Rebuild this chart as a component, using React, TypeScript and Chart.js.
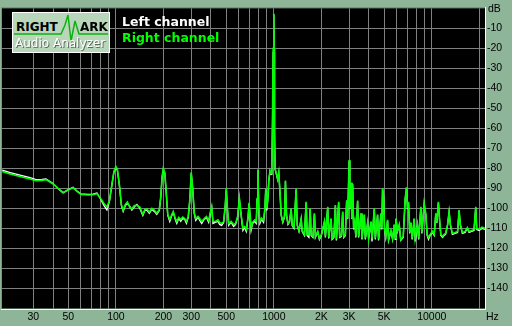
import React, { useEffect, useRef } from "react";
import { Chart, registerables } from "chart.js";

Chart.register(...registerables);

// Shared frequency grid of the FFT readout (Hz)
const freqs = [
  19.05, 21.4, 24.7, 28.6, 31.2, 34.1, 36.1, 40, 43, 46.3, 49, 53.5, 56.7, 60.1, 66.5, 71.6, 75.9, 79.2, 84, 87.7,
  91, 94.3, 97.1, 100, 102.2, 105.2, 108.3, 111.2, 114.8, 118.2, 122.6, 126.2, 130.9, 135.8, 141.8, 148.1, 152.5, 157, 162.8, 168.8,
  175.1, 181.6, 188.3, 192.4, 196.1, 199.6, 204, 208.4, 213, 219.4, 225.9, 230.9, 237.7, 242.9, 250, 257.4, 265, 272.9, 279.7, 287.1,
  293.5, 300, 306.5, 313.3, 320.2, 331.1, 339.4, 349.4, 362.3, 374.1, 386.8, 398.2, 404.1, 411.8, 425.2, 442.9, 453.9, 467.4, 481.2, 491.9,
  500, 508.5, 517.5, 536.6, 556.5, 572.8, 589.8, 605, 620.7, 637.2, 653.1, 669.4, 687.1, 697.1, 707.4, 717.8, 733.6, 755.3, 774.2, 783.3,
  792.4, 804, 815.8, 836.2, 861, 877.5, 889, 903.4, 916.6, 929.9, 946.3, 960.1, 971.4, 981.3, 989.9, 1000, 1005, 1010, 1019, 1034,
  1058, 1075, 1097, 1113, 1140, 1168, 1185, 1203, 1229, 1257, 1288, 1307, 1342, 1385, 1406, 1443, 1490, 1512, 1563, 1602,
  1626, 1669, 1698, 1723, 1769, 1808, 1834, 1897, 1944, 2001, 2091, 2121, 2194, 2226, 2305, 2339, 2401, 2454, 2490, 2574,
  2612, 2678, 2729, 2769, 2838, 2892, 2935, 3000, 3030, 3083, 3119, 3156, 3202, 3258, 3306, 3393, 3443, 3565, 3617, 3741,
  3796, 3925, 3983, 4124, 4185, 4327, 4391, 4539, 4606, 4770, 4825, 4882, 4954, 5026, 5115, 5251, 5328, 5516, 5646, 5788,
  5873, 5933, 6073, 6226, 6362, 6597, 6792, 6922, 7023, 7126, 7251, 7379, 7519, 7741, 7854, 8123, 8266, 8535, 8660, 8954,
  9178, 9353, 9533, 9770, 10100, 10360, 10610, 10770, 11020, 11220, 11420, 11720, 11980, 12240, 12600, 12880, 13130, 13510, 14050, 14570,
  14900, 15180, 15630, 16260, 16810, 17240, 17870, 18530, 18990, 19270, 19930, 20820, 21740,
];

// Right channel (green), dB
const rightDb = [
  -81.5, -82.8, -84, -85.3, -86.2, -86, -85.6, -87.8, -90, -92, -91.2, -89.6, -91.5, -93, -93.3, -93.2, -92.6, -94.5, -97.5, -99.3,
  -96, -88, -81.5, -79, -80.5, -88, -98, -101, -98, -96.8, -99.5, -100.2, -98.5, -98.4, -99.3, -103, -100.5, -100.2, -101.8, -100,
  -100.8, -102.4, -100.5, -94, -84, -80, -82, -92, -103, -105.5, -103, -101.5, -105, -106.5, -104.5, -105.5, -104.3, -105, -106.5, -104,
  -96, -82, -90, -102, -105, -104, -105, -106.5, -105, -104, -106, -101, -99, -106.5, -106.5, -105.7, -107, -107.5, -106.5, -99,
  -90, -100, -107.5, -106.5, -108, -107.5, -104, -94.8, -103, -109.8, -109, -110.5, -104, -97.2, -103, -109.8, -107, -105.7, -106.5, -95,
  -80.5, -100, -106.5, -104.9, -106, -100, -90, -100, -95, -85.3, -81, -82.5, -79, -55, -20, -2.7, -20, -60, -80, -82,
  -85.3, -82, -93.5, -103, -106.5, -104, -86, -103, -107.5, -106.5, -100, -108, -109.5, -90.2, -108, -111, -105, -111, -113, -96.7,
  -113, -113, -100, -113, -114, -102.4, -114, -111.4, -115, -113, -106.5, -114, -99.2, -114.5, -105, -115, -114, -98.3, -115.5, -96.7,
  -114, -113.5, -101.6, -114, -113, -95.9, -105, -75.8, -100, -87, -105, -87.8, -110, -106.5, -114, -96, -114, -102.4, -115, -103,
  -115, -107.3, -115, -106.5, -115, -100, -115, -103, -115.5, -102.4, -110, -90, -93.5, -110, -114, -105.7, -115.5, -111, -115, -108,
  -115, -105, -111, -108, -115.5, -114, -95, -89.4, -100, -96.7, -112, -107, -115, -105, -115, -108, -115, -99.2, -112, -97.5,
  -103, -113, -114.5, -113, -111.4, -113, -102.4, -107, -96.7, -106, -113, -114, -113, -112.5, -108, -101.6, -108, -112.5, -112, -111.5,
  -100.8, -108, -112, -111.5, -109.5, -111.5, -111, -110.5, -99.2, -110, -110.5, -109.4, -110,
];

// Left channel (white), dB
const leftDb = [
  -80.8, -82.1, -83.3, -84.6, -85.6, -85.5, -85.2, -87.5, -90, -92.2, -91, -89.4, -91.3, -92.8, -93, -92.9, -92.3, -94.8, -98.5, -100.8,
  -96.5, -88.5, -82, -79.5, -81, -88.5, -98.5, -101.5, -98.5, -97.5, -99, -100.8, -99.2, -98, -100, -103.5, -101, -100.8, -102.5, -100.5,
  -101.5, -103, -101, -94.5, -84.5, -80.5, -82.5, -92.5, -103.5, -106.5, -103.5, -102, -105.5, -107.5, -105, -106.5, -105, -105.5, -107.5, -104.5,
  -96.5, -82.5, -90.5, -102.5, -106, -104.5, -106, -107.5, -105.5, -104.5, -107, -101.5, -99.5, -107.5, -107, -106.5, -108, -108.5, -107, -99.5,
  -90.5, -100.5, -108.5, -107, -109, -108, -104.5, -95.3, -103.5, -111, -109.5, -111.5, -104.5, -97.7, -103.5, -111, -107.5, -106.5, -107.5, -95.5,
  -81, -101, -107.5, -105.5, -107, -101, -90.5, -101, -95.5, -86, -81.5, -83, -79.5, -58, -22, -3, -22, -62, -80.5, -82.5,
  -85.6, -82.3, -93.8, -103.5, -107, -104.3, -86.3, -103.5, -108, -106.8, -100.3, -108.5, -110, -90.5, -108.5, -111.5, -105.3, -111.5, -113.5, -97,
  -113.5, -114.5, -100.3, -113.5, -114.5, -102.7, -114.5, -111.8, -115.5, -113.5, -106.8, -114.5, -99.5, -115, -105.3, -115.5, -114.5, -98.6, -116, -97,
  -114.5, -114, -101.9, -114.5, -113.5, -96.2, -105.3, -76.2, -100.3, -87.3, -105.3, -88.1, -110.5, -106.8, -114.5, -96.3, -114.5, -102.7, -115.5, -103.3,
  -115.5, -107.6, -115.5, -106.8, -116.5, -100.3, -115.5, -103.3, -116, -102.7, -110.5, -90.3, -93.8, -110.5, -114.5, -106, -116, -111.5, -115.5, -108.3,
  -115.5, -105.3, -111.5, -108.3, -116, -114.5, -95.3, -89.7, -100.3, -97, -112.5, -107.3, -115.5, -105.3, -116.5, -108.3, -115.5, -99.5, -112.5, -97.8,
  -103.3, -113.5, -115.5, -113.5, -112, -113.5, -102.7, -107.3, -97, -106.3, -113.5, -114.5, -113.5, -113, -108.3, -101.9, -108.3, -113, -112.5, -112,
  -101.1, -108.3, -112.5, -112, -110, -112, -111.5, -111, -99.5, -110.5, -111, -110, -110.5,
];

// Axes
const freqMin = 19;
const freqMax = 21740;
const dbMin = -150;
const dbMax = 0;
const freqGrid = [30, 40, 50, 60, 70, 80, 90, 100, 200, 300, 400, 500, 600, 700, 800, 900, 1000, 2000, 3000, 4000, 5000, 6000, 7000, 8000, 9000, 10000, 20000];
const freqLabelValues = [30, 50, 100, 200, 300, 500, 1000, 2000, 3000, 5000, 10000];
const freqLabelTexts = ["30", "50", "100", "200", "300", "500", "1000", "2K", "3K", "5K", "10000"];
const dbTicks = [-10, -20, -30, -40, -50, -60, -70, -80, -90, -100, -110, -120, -130, -140];

const BG = "rgb(143,181,153)";

export default function App() {
  const canvasRef = useRef<HTMLCanvasElement | null>(null);

  useEffect(() => {
    document.body.style.margin = "0";
    const canvas = canvasRef.current;
    if (!canvas) return;

    const framePlugin = {
      id: "frame",
      beforeDraw(chart: any) {
        const { ctx, chartArea } = chart;
        ctx.save();
        ctx.fillStyle = "#000";
        ctx.fillRect(chartArea.left, chartArea.top, chartArea.right - chartArea.left, chartArea.bottom - chartArea.top);
        ctx.restore();
      },
      afterDraw(chart: any) {
        const { ctx, chartArea } = chart;
        const l = Math.round(chartArea.left), t = Math.round(chartArea.top);
        const r = Math.round(chartArea.right), b = Math.round(chartArea.bottom);
        ctx.save();
        ctx.lineWidth = 1;
        ctx.strokeStyle = "#6f9a7c";
        ctx.beginPath();
        ctx.moveTo(l - 0.5, b);
        ctx.lineTo(l - 0.5, t - 0.5);
        ctx.lineTo(r, t - 0.5);
        ctx.stroke();
        ctx.strokeStyle = "#ffffff";
        ctx.beginPath();
        ctx.moveTo(r + 0.5, t - 1);
        ctx.lineTo(r + 0.5, b + 0.5);
        ctx.lineTo(l - 1, b + 0.5);
        ctx.stroke();
        ctx.restore();
      },
    };

    const chart = new Chart(canvas, {
      type: "line",
      data: {
        datasets: [
          {
            label: "Right channel",
            data: freqs.map((f, i) => ({ x: f, y: rightDb[i] })),
            borderColor: "#00ff00",
            borderWidth: 1.6,
            pointRadius: 0,
            tension: 0,
          },
          {
            label: "Left channel",
            data: freqs.map((f, i) => ({ x: f, y: leftDb[i] })),
            borderColor: "#ffffff",
            borderWidth: 1.3,
            pointRadius: 0,
            tension: 0,
          },
        ],
      },
      options: {
        animation: false,
        responsive: false,
        maintainAspectRatio: false,
        layout: { padding: { top: 2, left: 2, right: 0, bottom: 0 } },
        plugins: { legend: { display: false }, tooltip: { enabled: false } },
        scales: {
          x: {
            type: "logarithmic",
            min: freqMin,
            max: freqMax,
            position: "bottom",
            afterBuildTicks: (s: any) => {
              s.ticks = freqGrid.map((v) => ({ value: v }));
            },
            afterFit: (s: any) => {
              s.height = 17.5;
            },
            grid: { color: "#808080", lineWidth: 1, drawTicks: false },
            border: { display: false },
            ticks: {
              autoSkip: false,
              maxRotation: 0,
              minRotation: 0,
              padding: 2,
              color: "#000",
              font: { family: "Liberation Sans", size: 10.5 },
              callback: (v: any) => {
                const idx = freqLabelValues.indexOf(Number(v));
                return idx >= 0 ? freqLabelTexts[idx] : "";
              },
            },
          },
          y: {
            type: "linear",
            position: "right",
            min: dbMin,
            max: dbMax,
            afterBuildTicks: (s: any) => {
              s.ticks = dbTicks.map((v) => ({ value: v }));
            },
            afterFit: (s: any) => {
              s.width = 27;
            },
            grid: { color: "#808080", lineWidth: 1, drawTicks: false },
            border: { display: false },
            ticks: {
              padding: 2,
              color: "#000",
              font: { family: "Liberation Sans", size: 10.5 },
              callback: (v: any) => String(v),
            },
          },
        },
      },
      plugins: [framePlugin],
    });

    return () => chart.destroy();
  }, []);

  return (
    <div style={{ position: "relative", width: 512, height: 326, background: BG, overflow: "hidden" }}>
      <canvas ref={canvasRef} width={512} height={326} style={{ display: "block", width: 512, height: 326 }} />
      <div
        style={{
          position: "absolute",
          left: 12,
          top: 12,
          width: 98,
          height: 41,
          boxSizing: "border-box",
          border: "1px solid #ffffff",
          background: "rgb(184,214,186)",
        }}
      >
        <svg width={96} height={39} style={{ position: "absolute", left: 0, top: 0 }}>
          <polyline
            points="1,21 48,21 52,12 55,2 58,28 62,8 66,21 95,21"
            fill="none"
            stroke="#10b010"
            strokeWidth={1.5}
          />
        </svg>
        <div style={{ position: "absolute", left: 3, top: 8, font: "bold 12px 'DejaVu Sans'", lineHeight: "12px", color: "#000" }}>
          RIGHT
        </div>
        <div style={{ position: "absolute", left: 67, top: 8, font: "bold 12px 'DejaVu Sans'", lineHeight: "12px", color: "#000" }}>
          ARK
        </div>
        <div
          style={{
            position: "absolute",
            left: 2,
            top: 24,
            font: "12px 'DejaVu Sans'",
            lineHeight: "12px",
            color: "#ffffff",
            textShadow: "1px 1px 0 #5a6a5a",
            whiteSpace: "nowrap",
          }}
        >
          Audio Analyzer
        </div>
      </div>
      <div
        style={{
          position: "absolute",
          left: 122,
          top: 15,
          font: "bold 12.5px 'DejaVu Sans'",
          lineHeight: "13px",
          color: "#ffffff",
          whiteSpace: "nowrap",
        }}
      >
        Left channel
      </div>
      <div
        style={{
          position: "absolute",
          left: 122,
          top: 31,
          font: "bold 12.5px 'DejaVu Sans'",
          lineHeight: "13px",
          color: "#00ff00",
          whiteSpace: "nowrap",
        }}
      >
        Right channel
      </div>
      <div style={{ position: "absolute", left: 488, top: 2, font: "10.5px 'Liberation Sans'", lineHeight: "12px", color: "#000" }}>
        dB
      </div>
      <div style={{ position: "absolute", left: 486, top: 310, font: "10.5px 'Liberation Sans'", lineHeight: "12px", color: "#000" }}>
        Hz
      </div>
    </div>
  );
}
